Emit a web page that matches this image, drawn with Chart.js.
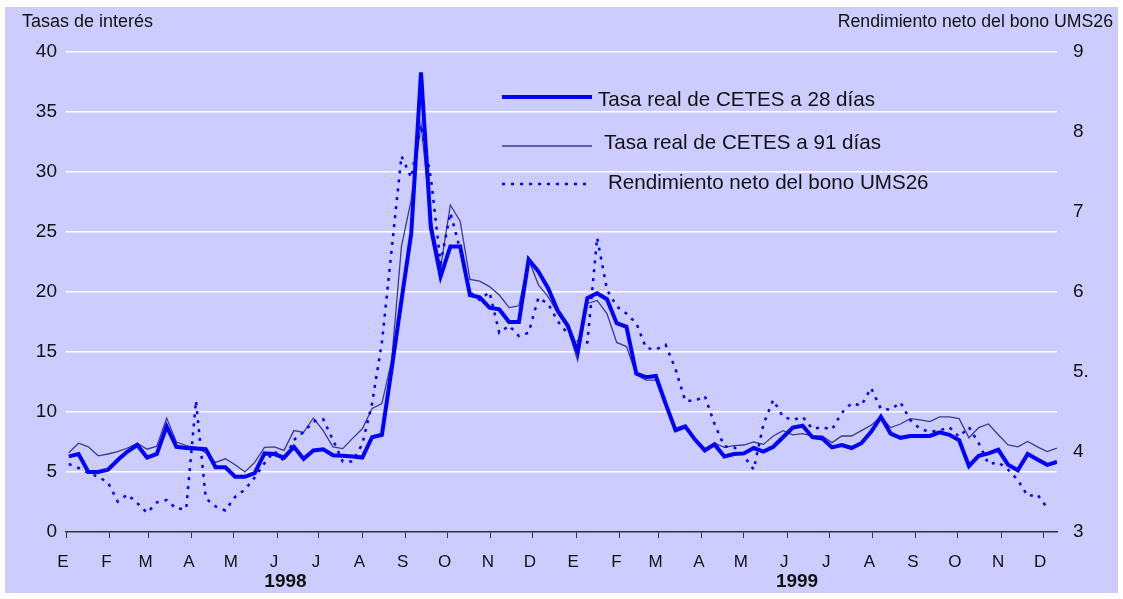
<!DOCTYPE html>
<html>
<head>
<meta charset="utf-8">
<script src="https://cdn.jsdelivr.net/npm/chart.js@4.4.1/dist/chart.umd.min.js"></script>
<style>
  body { margin: 0; background: #fff; }
  canvas { display: block; }
</style>
</head>
<body>
<canvas id="tasasChart" width="1123" height="599"></canvas>
<script>
// month letters and the day (from 1 Jan 1998) each month starts on
const months = ['E','F','M','A','M','J','J','A','S','O','N','D','E','F','M','A','M','J','J','A','S','O','N','D'];
const monthStartDays = [0,31,59,90,120,151,181,212,243,273,304,334,365,396,424,455,485,516,546,577,608,638,669,699];
const years = ['1998', '1999'];
const yearCenterDays = [157, 523];
const rightTickLabels = ['3', '4', '5.', '6', '7', '8', '9'];

// weekly observations, first one on 3 Jan 1998
const weekCount = 102;
const weekDays = Array.from({length: weekCount}, (_, i) => 2 + 7 * i);

const cetes28 = [6.3, 6.5, 5.0, 5.0, 5.2, 6.0, 6.7, 7.25, 6.2, 6.5,
  8.8, 7.1, 7.0, 6.95, 6.9, 5.4, 5.4, 4.6, 4.6, 4.9,
  6.55, 6.5, 6.2, 7.1, 6.1, 6.8, 6.9, 6.4, 6.35, 6.3,
  6.2, 7.9, 8.1, 13.6, 19.3, 24.9, 38.3, 25.4, 21.3, 23.8,
  23.8, 19.75, 19.55, 18.7, 18.55, 17.5, 17.5, 22.7, 21.7, 20.3,
  18.4, 17.2, 15.0, 19.5, 19.9, 19.4, 17.4, 17.1, 13.2, 12.9,
  13.0, 10.7, 8.5, 8.8, 7.7, 6.8, 7.3, 6.3, 6.5, 6.55,
  7.0, 6.7, 7.1, 7.9, 8.7, 8.85, 7.9, 7.8, 7.05, 7.25,
  7.0, 7.4, 8.35, 9.6, 8.2, 7.85, 8.0, 8.0, 8.0, 8.3,
  8.1, 7.65, 5.5, 6.35, 6.55, 6.85, 5.6, 5.15, 6.5, 6.05,
  5.6, 5.85];

const cetes91 = [6.6, 7.4, 7.1, 6.35, 6.5, 6.7, 7.0, 7.4, 6.9, 7.15,
  9.5, 7.5, 7.2, 7.05, 6.6, 5.8, 6.1, 5.6, 5.0, 5.8,
  7.05, 7.1, 6.8, 8.45, 8.3, 9.5, 8.45, 7.1, 6.95, 7.8,
  8.6, 10.3, 10.7, 14.3, 23.8, 27.7, 34.0, 26.0, 22.1, 27.25,
  25.9, 21.05, 20.9, 20.45, 19.75, 18.7, 18.85, 22.7, 20.6, 19.6,
  18.2, 17.0, 14.3, 19.05, 19.3, 18.2, 15.8, 15.45, 13.1, 12.65,
  12.65, 10.5, 8.35, 8.65, 7.8, 6.95, 7.4, 7.05, 7.2, 7.25,
  7.5, 7.3, 8.0, 8.45, 8.1, 8.2, 8.0, 8.0, 7.45, 8.0,
  8.0, 8.45, 8.9, 9.6, 8.7, 9.0, 9.45, 9.35, 9.2, 9.6,
  9.6, 9.45, 7.85, 8.7, 9.0, 8.1, 7.25, 7.1, 7.55, 7.1,
  6.7, 7.0];

// right axis
const ums26 = [3.85, 3.80, 3.74, 3.69, 3.62, 3.38, 3.47, 3.36, 3.24, 3.37,
  3.40, 3.29, 3.29, 4.64, 3.42, 3.32, 3.27, 3.44, 3.53, 3.68,
  3.86, 4.01, 3.89, 4.15, 4.25, 4.38, 4.41, 4.15, 3.88, 3.88,
  4.10, 4.61, 5.37, 6.53, 7.70, 7.43, 8.09, 7.43, 6.36, 6.99,
  6.53, 6.00, 5.90, 6.00, 5.49, 5.58, 5.45, 5.49, 5.93, 5.85,
  5.63, 5.48, 5.39, 5.37, 6.68, 6.03, 5.82, 5.73, 5.61, 5.30,
  5.28, 5.34, 5.04, 4.64, 4.64, 4.70, 4.35, 4.07, 4.06, 3.95,
  3.78, 4.35, 4.65, 4.44, 4.40, 4.44, 4.29, 4.31, 4.28, 4.49,
  4.61, 4.58, 4.80, 4.54, 4.53, 4.62, 4.40, 4.29, 4.25, 4.27,
  4.31, 4.19, 4.31, 4.11, 3.85, 3.87, 3.78, 3.65, 3.45, 3.47,
  3.30, null];

const toPoints = (vals) => vals.map((v, i) => ({x: weekDays[i], y: v}));

const FONT = "'Liberation Sans', Arial, sans-serif";
Chart.defaults.font.family = FONT;
Chart.defaults.color = '#111';

// lavender panel + the two axis titles + legend inside the plot
const panelPlugin = {
  id: 'panel',
  beforeDraw(chart) {
    const ctx = chart.ctx;
    ctx.save();
    ctx.fillStyle = '#CCCCFF';
    ctx.fillRect(5, 7, 1113, 586);
    ctx.restore();
  },
  afterDraw(chart) {
    const ctx = chart.ctx;
    ctx.save();
    ctx.fillStyle = '#111';
    ctx.textBaseline = 'middle';
    ctx.textAlign = 'left';
    ctx.font = '18px ' + FONT;
    ctx.fillText('Tasas de interés', 22, 22);
    ctx.textAlign = 'right';
    ctx.font = '17.7px ' + FONT;
    ctx.fillText('Rendimiento neto del bono UMS26', 1113, 22);

    // legend
    const rows = [{ly: 97, tx: 598, ty: 100}, {ly: 146, tx: 604, ty: 143}, {ly: 184, tx: 608, ty: 183}];
    chart.data.datasets.forEach((ds, k) => {
      const r = rows[k];
      ctx.strokeStyle = ds.borderColor;
      ctx.lineWidth = ds.borderWidth;
      ctx.setLineDash(ds.borderDash || []);
      ctx.beginPath();
      ctx.moveTo(502, r.ly);
      ctx.lineTo(592, r.ly);
      ctx.stroke();
      ctx.setLineDash([]);
      ctx.font = '20.6px ' + FONT;
      ctx.textAlign = 'left';
      ctx.fillStyle = '#111';
      ctx.fillText(ds.label, r.tx, r.ty);
    });
    ctx.restore();
  }
};

new Chart(document.getElementById('tasasChart'), {
  type: 'line',
  data: {
    datasets: [
      {
        label: 'Tasa real de CETES a 28 días',
        data: toPoints(cetes28),
        borderColor: '#0000FF',
        borderWidth: 4,
        pointRadius: 0,
        yAxisID: 'y',
        order: 1
      },
      {
        label: 'Tasa real de CETES a 91 días',
        data: toPoints(cetes91),
        borderColor: '#3A3A8E',
        borderWidth: 1.3,
        pointRadius: 0,
        yAxisID: 'y',
        order: 2
      },
      {
        label: 'Rendimiento neto del bono UMS26',
        data: toPoints(ums26),
        borderColor: '#0000FF',
        borderWidth: 2.5,
        borderDash: [3, 6],
        pointRadius: 0,
        yAxisID: 'y1',
        order: 0
      }
    ]
  },
  options: {
    responsive: false,
    animation: false,
    devicePixelRatio: 1,
    layout: { padding: { top: 52, left: 6, right: 5, bottom: 4 } },
    plugins: { legend: { display: false }, tooltip: { enabled: false } },
    scales: {
      x: {
        type: 'linear', position: 'bottom', weight: 0,
        min: 0, max: 709,
        afterBuildTicks: s => { s.ticks = monthStartDays.map(v => ({value: v})); },
        afterFit: s => { s.height = 40; },
        ticks: {
          autoSkip: false, maxRotation: 0, padding: 14, labelOffset: -3,
          font: { size: 17 }, color: '#111',
          callback: (v, i) => months[i]
        },
        grid: { drawOnChartArea: false, drawTicks: true, tickLength: 6, color: '#333', lineWidth: 1 },
        border: { display: true, color: '#333', width: 1.5 }
      },
      x2: {
        type: 'linear', position: 'bottom', weight: 1,
        min: 0, max: 709,
        afterBuildTicks: s => { s.ticks = yearCenterDays.map(v => ({value: v})); },
        afterFit: s => { s.height = 23; },
        ticks: {
          autoSkip: false, maxRotation: 0, padding: -10,
          font: { size: 19, weight: 'bold' }, color: '#111',
          callback: (v, i) => years[i]
        },
        grid: { display: false },
        border: { display: false }
      },
      y: {
        type: 'linear', position: 'left',
        min: 0, max: 40,
        afterFit: s => { s.width = 60; },
        ticks: { stepSize: 5, padding: 9, font: { size: 19 }, color: '#111' },
        grid: {
          drawTicks: false, lineWidth: 1.5,
          color: c => c.tick.value === 0 ? 'rgba(0,0,0,0)' : '#FFFFFF'
        },
        border: { display: false }
      },
      y1: {
        type: 'linear', position: 'right',
        min: 3, max: 9,
        afterFit: s => { s.width = 61; },
        ticks: {
          stepSize: 1, padding: 16, font: { size: 19 }, color: '#111',
          callback: v => rightTickLabels[v - 3]
        },
        grid: { drawOnChartArea: false, drawTicks: false },
        border: { display: false }
      }
    }
  },
  plugins: [panelPlugin]
});
</script>
</body>
</html>
